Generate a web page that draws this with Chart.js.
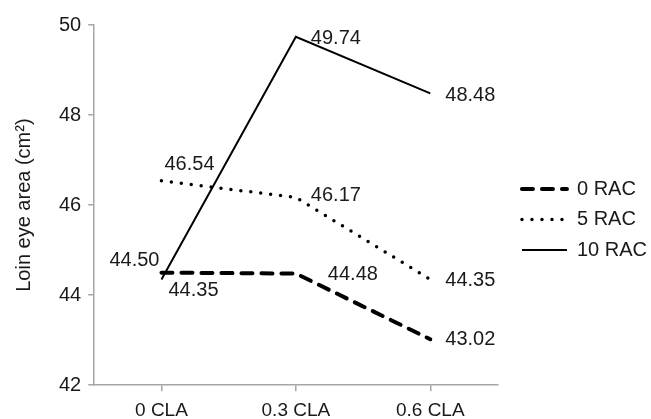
<!DOCTYPE html>
<html lang="en">
<head>
    <meta charset="UTF-8">
    <title>Loin eye area</title>
    <script src="https://cdn.jsdelivr.net/npm/chart.js"></script>
    <style>
        body {
            margin: 0;
            padding: 0;
            background: #ffffff;
        }

        .chart-box {
            width: 651px;
            height: 419px;
        }
    </style>
</head>
<body>
    <div class="chart-box">
        <canvas id="loinChart"></canvas>
    </div>

    <script>
        // data
        const categories = ['0 CLA', '0.3 CLA', '0.6 CLA'];
        const seriesNames = ['0 RAC', '5 RAC', '10 RAC'];
        const rac0 = [44.50, 44.48, 43.02];
        const rac5 = [46.54, 46.17, 44.35];
        const rac10 = [44.35, 49.74, 48.48];
        const yTicks = [42, 44, 46, 48, 50];

        const textColor = '#1a1a1a';
        const axisColor = '#a6a6a6';
        const fontFamily = "'Liberation Sans', Arial, sans-serif";

        // draws the value next to each point, label offsets come from the dataset
        const valueLabels = {
            id: 'valueLabels',
            afterDatasetsDraw(chart) {
                const ctx = chart.ctx;
                ctx.save();
                ctx.font = '20px ' + fontFamily;
                ctx.fillStyle = textColor;
                ctx.textBaseline = 'middle';
                chart.data.datasets.forEach((ds, i) => {
                    const meta = chart.getDatasetMeta(i);
                    meta.data.forEach((pt, j) => {
                        const [dx, dy, align] = ds.labelPos[j];
                        ctx.textAlign = align;
                        ctx.fillText(ds.data[j].toFixed(2), pt.x + dx, pt.y + dy);
                    });
                });
                ctx.restore();
            }
        };

        // nudge the legend to where the original figure has it
        const legendNudge = {
            id: 'legendNudge',
            afterLayout(chart) {
                const lg = chart.legend;
                lg.left += 14;
                lg.right += 14;
                lg.top -= 8;
                lg.bottom -= 8;
            }
        };

        // legend samples keep the dash pattern of their line
        const defaultLabels = Chart.defaults.plugins.legend.labels.generateLabels;

        const ctx = document.getElementById('loinChart').getContext('2d');
        const chart = new Chart(ctx, {
            type: 'line',
            data: {
                labels: categories,
                datasets: [
                    {
                        label: seriesNames[0],
                        data: rac0,
                        borderColor: '#000000',
                        borderWidth: 4,
                        borderDash: [11, 9],
                        borderCapStyle: 'round',
                        labelPos: [[-2, -12, 'right'], [32, 1, 'left'], [15, 0, 'left']]
                    },
                    {
                        label: seriesNames[1],
                        data: rac5,
                        borderColor: '#000000',
                        borderWidth: 3.5,
                        borderDash: [0, 10],
                        borderCapStyle: 'round',
                        labelPos: [[3, -16, 'left'], [15, -2, 'left'], [15, 1, 'left']]
                    },
                    {
                        label: seriesNames[2],
                        data: rac10,
                        borderColor: '#000000',
                        borderWidth: 2,
                        labelPos: [[7, 11, 'left'], [15, 2, 'left'], [15, 2, 'left']]
                    }
                ]
            },
            options: {
                responsive: true,
                maintainAspectRatio: false,
                animation: false,
                events: [],
                elements: {
                    point: { radius: 0 },
                    line: { tension: 0 }
                },
                layout: {
                    padding: { left: 0, right: 8, top: 25, bottom: -11 }
                },
                scales: {
                    x: {
                        offset: true,
                        grid: {
                            drawOnChartArea: false,
                            color: axisColor,
                            tickLength: 6,
                            lineWidth: 1.5
                        },
                        border: { color: axisColor, width: 1.5 },
                        ticks: {
                            color: textColor,
                            padding: 8,
                            font: { family: fontFamily, size: 19 }
                        }
                    },
                    y: {
                        min: 42,
                        max: 50,
                        afterBuildTicks: axis => {
                            axis.ticks = yTicks.map(v => ({ value: v }));
                        },
                        grid: {
                            drawOnChartArea: false,
                            color: axisColor,
                            tickLength: 6,
                            lineWidth: 1.5
                        },
                        border: { color: axisColor, width: 1.5 },
                        ticks: {
                            color: textColor,
                            padding: 7,
                            font: { family: fontFamily, size: 20 }
                        },
                        title: {
                            display: true,
                            text: 'Loin eye area (cm²)',
                            color: textColor,
                            padding: { top: 12, bottom: 16 },
                            font: { family: fontFamily, size: 20 }
                        }
                    }
                },
                plugins: {
                    tooltip: { enabled: false },
                    legend: {
                        position: 'right',
                        labels: {
                            usePointStyle: true,
                            pointStyle: 'line',
                            pointStyleWidth: 45,
                            padding: 10.5,
                            color: textColor,
                            font: { family: fontFamily, size: 20 },
                            generateLabels: c => defaultLabels(c).map(item => {
                                const ds = c.data.datasets[item.datasetIndex];
                                item.lineDash = ds.borderDash || [];
                                item.lineCap = ds.borderCapStyle || 'butt';
                                item.lineWidth = ds.borderWidth;
                                return item;
                            })
                        }
                    }
                }
            },
            plugins: [valueLabels, legendNudge]
        });
    </script>
</body>
</html>
